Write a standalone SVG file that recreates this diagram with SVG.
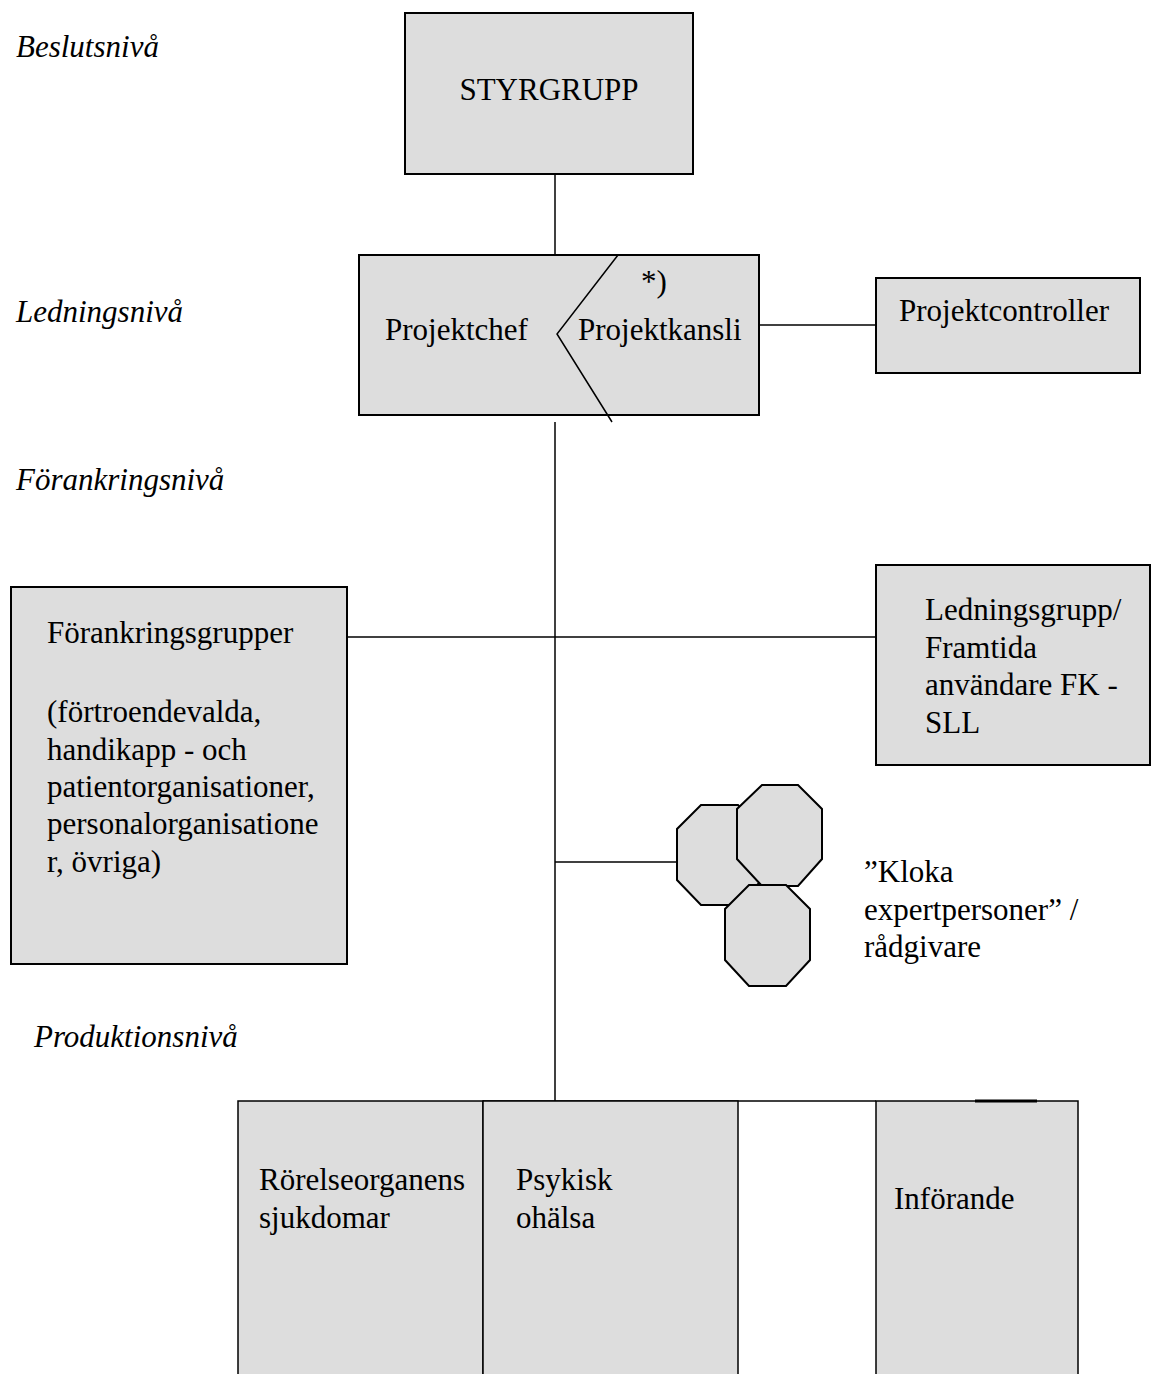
<svg xmlns="http://www.w3.org/2000/svg" width="1152" height="1374" viewBox="0 0 1152 1374">
<style>
.box{fill:#dddddd;stroke:#000;stroke-width:2}
.thin{stroke-width:1.5}
.ln{stroke:#000;stroke-width:1.5;fill:none}
text{font-family:"Liberation Serif","Times New Roman",serif;font-size:31px;fill:#000}
.lvl{font-style:italic}
</style>
<rect width="1152" height="1374" fill="#fff"/>
<g id="levels">
<text class="lvl" x="16" y="57">Beslutsnivå</text>
<text class="lvl" x="16" y="322">Ledningsnivå</text>
<text class="lvl" x="16" y="490">Förankringsnivå</text>
<text class="lvl" x="34" y="1047">Produktionsnivå</text>
</g>
<g id="connectors">
<line class="ln" x1="555" y1="174" x2="555" y2="255"/>
<line class="ln" x1="555" y1="422" x2="555" y2="1101"/>
<line class="ln" x1="756" y1="325" x2="876" y2="325"/>
<line class="ln" x1="347" y1="637" x2="876" y2="637"/>
<line class="ln" x1="555" y1="862" x2="677" y2="862"/>
<line class="ln" x1="483" y1="1101" x2="876" y2="1101"/>
</g>
<g id="styrgrupp">
<rect class="box" x="405" y="13" width="288" height="161"/>
<text x="549" y="100" text-anchor="middle">STYRGRUPP</text>
</g>
<g id="projektchef">
<rect class="box" x="359" y="255" width="400" height="160"/>
<polyline class="ln" points="618,255 557,334 612,422"/>
<text x="385" y="340">Projektchef</text>
<text x="578" y="340">Projektkansli</text>
<text x="641" y="292">*)</text>
</g>
<g id="projektcontroller">
<rect class="box" x="876" y="278" width="264" height="95"/>
<text x="899" y="321">Projektcontroller</text>
</g>
<g id="forankringsgrupper">
<rect class="box" x="11" y="587" width="336" height="377"/>
<text x="47" y="643">Förankringsgrupper</text>
<text x="47" y="722">(förtroendevalda,</text>
<text x="47" y="760">handikapp - och</text>
<text x="47" y="797">patientorganisationer,</text>
<text x="47" y="834">personalorganisatione</text>
<text x="47" y="872">r, övriga)</text>
</g>
<g id="ledningsgrupp">
<rect class="box" x="876" y="565" width="274" height="200"/>
<text x="925" y="620">Ledningsgrupp/</text>
<text x="925" y="658">Framtida</text>
<text x="925" y="695">användare FK -</text>
<text x="925" y="733">SLL</text>
</g>
<g id="experter">
<polygon class="box" points="701,805 738,805 762,829 762,880 738,905 701,905 677,880 677,829"/>
<polygon class="box" points="762,785 798,785 822,809 822,859 798,886 762,886 737,859 737,809"/>
<polygon class="box" points="749,885 786,885 810,909 810,960 786,986 749,986 725,960 725,909"/>
<text x="864" y="882">”Kloka</text>
<text x="864" y="920">expertpersoner” /</text>
<text x="864" y="957">rådgivare</text>
</g>
<g id="rorelse">
<rect class="box thin" x="238" y="1101" width="245" height="290"/>
<text x="259" y="1190">Rörelseorganens</text>
<text x="259" y="1228">sjukdomar</text>
</g>
<g id="psykisk">
<rect class="box thin" x="483" y="1101" width="255" height="290"/>
<text x="516" y="1190">Psykisk</text>
<text x="516" y="1228">ohälsa</text>
</g>
<g id="inforande">
<rect class="box thin" x="876" y="1101" width="202" height="290"/>
<line class="ln" x1="975" y1="1101" x2="1037" y2="1101" style="stroke-width:3"/>
<text x="894" y="1209">Införande</text>
</g>
</svg>
